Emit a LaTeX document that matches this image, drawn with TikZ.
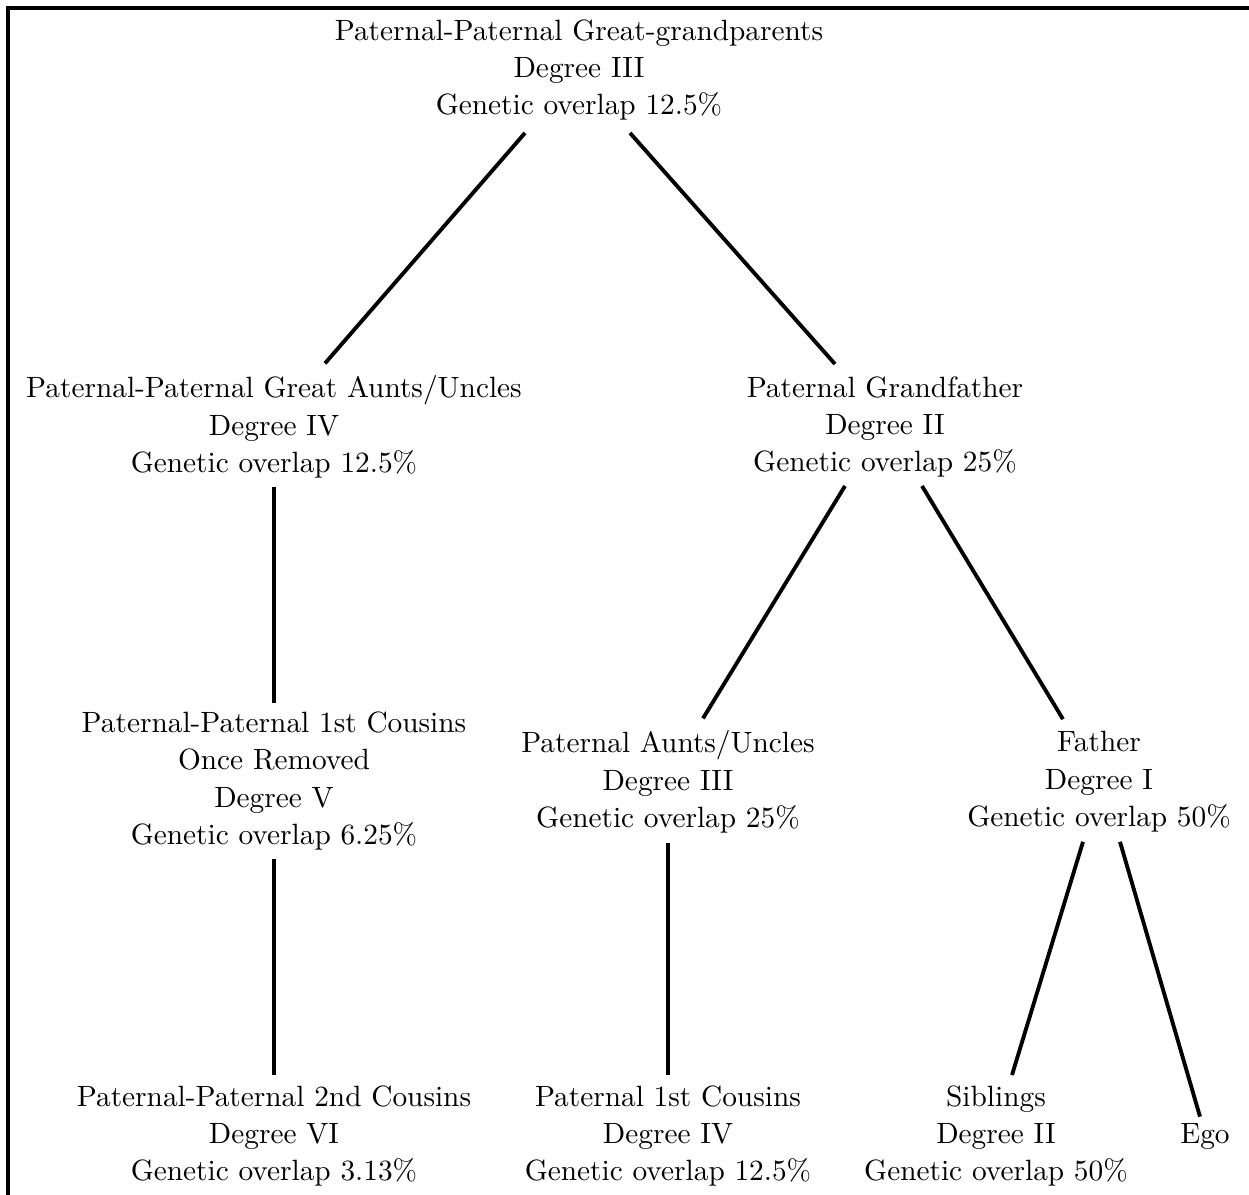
\documentclass[tikz,border=0pt]{standalone}
\usepackage{amsmath, amssymb}
\usepackage{xcolor}
\usepackage{fontspec}
\setmainfont{lmroman10-regular}[Extension=.otf]
\usetikzlibrary{calc}

\begin{document}
\begin{tikzpicture}[x=0.02cm, y=-0.02cm,
      every node/.style={font=\fontsize{16.7pt}{21.3pt}\selectfont},
      person/.style={align=center, inner sep=0pt},
      link/.style={line width=2.2pt}]
    \useasboundingbox (0,0) rectangle (1249,1195);
    % frame (top and left edges only)
    \draw[line width=2.6pt] (8,1195) -- (8,8) -- (1249,8);

    % generations
    \node[person] (top) at (579, 70) {Paternal-Paternal Great-grandparents\\Degree III\\Genetic overlap 12.5\%};
    \node[person] (gau) at (274, 427) {Paternal-Paternal Great Aunts/Uncles\\Degree IV\\Genetic overlap 12.5\%};
    \node[person] (pgf) at (885, 427) {Paternal Grandfather\\Degree II\\Genetic overlap 25\%};
    \node[person] (ppcone) at (274, 781) {Paternal-Paternal 1st Cousins\\Once Removed\\Degree V\\Genetic overlap 6.25\%};
    \node[person] (pau) at (668, 782) {Paternal Aunts/Uncles\\Degree III\\Genetic overlap 25\%};
    \node[person] (father) at (1099, 782) {Father\\Degree I\\Genetic overlap 50\%};
    \node[person] (ppctwo) at (274, 1136) {Paternal-Paternal 2nd Cousins\\Degree VI\\Genetic overlap 3.13\%};
    \node[person] (pcone) at (668, 1136) {Paternal 1st Cousins\\Degree IV\\Genetic overlap 12.5\%};
    \node[person] (sib) at (996, 1136) {Siblings\\Degree II\\Genetic overlap 50\%};
    \node[person] (ego) at (1205, 1137) {Ego};

    % descent lines
    \draw[link] ($(top.south)+(-54,12)$) -- ($(gau.north)+(51,-12)$);
    \draw[link] ($(top.south)+(51,12)$) -- ($(pgf.north)+(-50,-12)$);
    \draw[link] ($(gau.south)+(0,8)$) -- ($(ppcone.north)+(0,-8)$);
    \draw[link] ($(pgf.south)+(-40,8)$) -- ($(pau.north)+(35,-12)$);
    \draw[link] ($(pgf.south)+(37,8)$) -- ($(father.north)+(-36,-12)$);
    \draw[link] ($(ppcone.south)+(0,8)$) -- ($(ppctwo.north)+(0,-10)$);
    \draw[link] ($(pau.south)+(0,9)$) -- ($(pcone.north)+(0,-10)$);
    \draw[link] ($(father.south)+(-16,9)$) -- ($(sib.north)+(16,-10)$);
    \draw[link] ($(father.south)+(21,9)$) -- ($(ego.north)+(-5,-7)$);
  \end{tikzpicture}
\end{document}
